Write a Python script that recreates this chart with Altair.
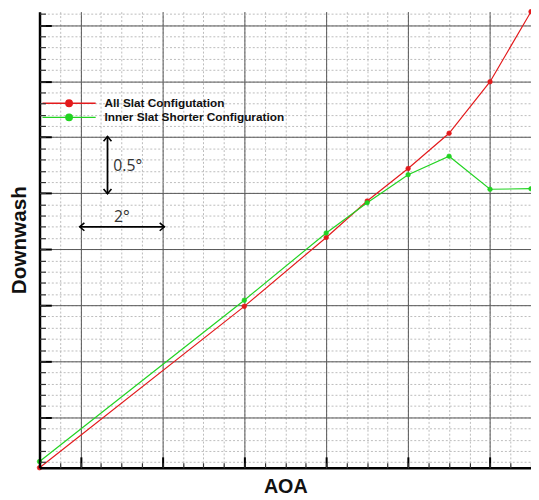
import altair as alt
import pandas as pd

# ---------------- data ----------------
aoa = [0, 5, 7, 8, 9, 10, 11, 12]
all_slat = [0.05, 1.49, 2.105, 2.43, 2.72, 3.035, 3.495, 4.12]
inner_short = [0.105, 1.545, 2.145, 2.415, 2.665, 2.83, 2.535, 2.54]
series_names = ["All Slat Configutation", "Inner Slat Shorter Configuration"]
series_colors = ["#e31a1c", "#22d322"]

x_major = [1, 3, 5, 7, 9, 11]
x_minor = [0.5 * i for i in range(25)]
y_major = [0.5, 1.0, 1.5, 2.0, 2.5, 3.0, 3.5, 4.0]
y_minor = [round(0.1 * i, 1) for i in range(1, 42)]

x_domain = [0, 12]
y_domain = [0.05, 4.12]

# annotation arrows / labels
arrow_x1 = [1.66, 0.98]
arrow_x2 = [1.66, 3.05]
arrow_y1 = [2.495, 2.2]
arrow_y2 = [3.006, 2.2]
head_x = [1.66, 1.66, 0.98, 3.05]
head_y = [3.006, 2.495, 2.2, 2.2]
head_dir = ["up", "down", "left", "right"]
note_text = ["0.5°", "2°"]
note_x = [1.80, 1.82]
note_y = [2.741, 2.29]

# ---------------- tables ----------------
rows = []
for a, v in zip(aoa, all_slat):
    rows.append({"aoa": a, "downwash": v, "series": series_names[0]})
for a, v in zip(aoa, inner_short):
    rows.append({"aoa": a, "downwash": v, "series": series_names[1]})
df = pd.DataFrame(rows)

head_paths = {
    "up": "M-1,1.2L0,0L1,1.2",
    "down": "M-1,-1.2L0,0L1,-1.2",
    "left": "M1.2,-1L0,0L1.2,1",
    "right": "M-1.2,-1L0,0L-1.2,1",
}
arrows = pd.DataFrame({"x1": arrow_x1, "x2": arrow_x2, "y1": arrow_y1, "y2": arrow_y2})
heads = pd.DataFrame({"hx": head_x, "hy": head_y, "shape": [head_paths[d] for d in head_dir]})
notes = pd.DataFrame({"tx": note_x, "ty": note_y, "label": note_text})

xs = alt.Scale(domain=x_domain, nice=False, zero=False)
ys = alt.Scale(domain=y_domain, nice=False, zero=False)
cs = alt.Scale(domain=series_names, range=series_colors)

TF = "Liberation Sans"

def bare(orient, **kw):
    base = dict(orient=orient, domain=False, ticks=False, labels=False, grid=False, title=None)
    base.update(kw)
    return alt.Axis(**base)

# grid axes
ax_minor_grid_x = bare("bottom", values=x_minor, grid=True, gridColor="#b4b4b4", gridDash=[2, 2], gridWidth=0.9)
ax_minor_grid_y = bare("left", values=y_minor, grid=True, gridColor="#b4b4b4", gridDash=[2, 2], gridWidth=0.9)
ax_major_grid_x = bare("bottom", values=x_major, grid=True, gridColor="#555555", gridWidth=1)
ax_major_grid_y = bare("left", values=y_major, grid=True, gridColor="#555555", gridWidth=1)
# domain + titles
ax_domain_x = alt.Axis(orient="bottom", domain=True, domainColor="#000000", domainWidth=2.5,
                       ticks=False, labels=False, grid=False, title="AOA", titleFont=TF,
                       titleFontSize=20, titleFontWeight="bold", titleColor="#111111",
                       titlePadding=9, zindex=1)
ax_domain_y = alt.Axis(orient="left", domain=True, domainColor="#000000", domainWidth=2.5,
                       ticks=False, labels=False, grid=False, title="Downwash", titleFont=TF,
                       titleFontSize=21, titleFontWeight="bold", titleColor="#111111",
                       titlePadding=10, zindex=1)
# inward ticks
ax_major_ticks_x = bare("bottom", values=x_major, ticks=True, tickSize=11, tickWidth=2,
                        tickColor="#000000", offset=-11, zindex=1)
ax_major_ticks_y = bare("left", values=y_major, ticks=True, tickSize=12, tickWidth=2,
                        tickColor="#000000", offset=-12, zindex=1)
ax_minor_ticks_x = bare("bottom", values=x_minor, ticks=True, tickSize=5, tickWidth=1.2,
                        tickColor="#333333", offset=-5, zindex=1)
ax_minor_ticks_y = bare("left", values=y_minor, ticks=True, tickSize=6, tickWidth=1.2,
                        tickColor="#333333", offset=-6, zindex=1)

legend_symbol = "M-1,0L1,0M0.12,0A0.12,0.12,0,1,1,-0.12,0A0.12,0.12,0,1,1,0.12,0Z"

def make_leg():
    return alt.Legend(orient="none", legendX=2, legendY=87, title=None, padding=0,
                      symbolType=legend_symbol, symbolSize=2916, symbolStrokeWidth=1.5,
                      symbolOpacity=1, labelFont=TF, labelFontSize=12, labelFontWeight="bold",
                      labelColor="#111111", labelOffset=8, rowPadding=2.3, clipHeight=12,
                      labelLimit=400)

lines = alt.Chart(df).mark_line(strokeWidth=1.2).encode(
    x=alt.X("aoa:Q", scale=xs, axis=ax_minor_grid_x),
    y=alt.Y("downwash:Q", scale=ys, axis=ax_minor_grid_y),
    color=alt.Color("series:N", scale=cs, legend=make_leg()),
)

points = alt.Chart(df).mark_point(filled=True, size=22, opacity=1, strokeWidth=0.6).encode(
    x=alt.X("aoa:Q", scale=xs, axis=ax_major_grid_x),
    y=alt.Y("downwash:Q", scale=ys, axis=ax_major_grid_y),
    fill=alt.Fill("series:N", scale=cs, legend=make_leg()),
    stroke=alt.Stroke("series:N", scale=cs, legend=make_leg()),
)

arrow_lines = alt.Chart(arrows).mark_rule(color="#000000", strokeWidth=1.8).encode(
    x=alt.X("x1:Q", scale=xs, axis=ax_domain_x),
    x2="x2:Q",
    y=alt.Y("y1:Q", scale=ys, axis=ax_domain_y),
    y2="y2:Q",
)

arrow_heads = alt.Chart(heads).mark_point(filled=False, size=64, opacity=1, strokeWidth=1.6,
                                          color="#000000").encode(
    x=alt.X("hx:Q", scale=xs, axis=ax_major_ticks_x),
    y=alt.Y("hy:Q", scale=ys, axis=ax_major_ticks_y),
    shape=alt.Shape("shape:N", scale=None),
)

note_marks = alt.Chart(notes).mark_text(align="left", baseline="middle", font="Open Sans",
                                        fontSize=16, color="#333333").encode(
    x=alt.X("tx:Q", scale=xs, axis=ax_minor_ticks_x),
    y=alt.Y("ty:Q", scale=ys, axis=ax_minor_ticks_y),
    text="label:N",
)

chart = alt.layer(lines, points, arrow_lines, arrow_heads, note_marks).resolve_axis(
    x="independent", y="independent"
).properties(
    width=499,
    height=463,
    padding={"left": 32, "top": 0, "right": 0, "bottom": 26},
    autosize=alt.AutoSizeParams(type="none"),
    background="white",
).configure_view(stroke=None)

chart.save("out.html", embed_options={"renderer": "svg", "actions": False})
